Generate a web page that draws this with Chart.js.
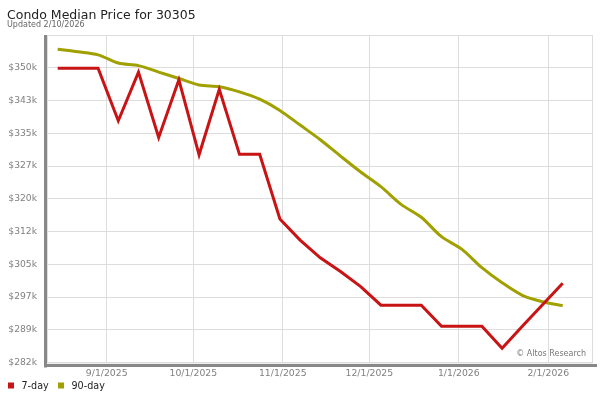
<!DOCTYPE html>
<html>
<head>
<meta charset="utf-8">
<script src="https://cdn.jsdelivr.net/npm/chart.js@4.4.1/dist/chart.umd.min.js"></script>
<style>
  html, body { margin: 0; padding: 0; background: #fff; }
</style>
</head>
<body>
<canvas id="myChart" width="600" height="400"></canvas>
<script>
// semanas (viernes) del reporte
const weekDates = [
  '2025-08-15', '2025-08-22', '2025-08-29', '2025-09-05', '2025-09-12', '2025-09-19', '2025-09-26',
  '2025-10-03', '2025-10-10', '2025-10-17', '2025-10-24', '2025-10-31', '2025-11-07', '2025-11-14',
  '2025-11-21', '2025-11-28', '2025-12-05', '2025-12-12', '2025-12-19', '2025-12-26', '2026-01-02',
  '2026-01-09', '2026-01-16', '2026-01-23', '2026-01-30', '2026-02-06'
];
const sevenDay = [
  350600, 350600, 350600, 338400, 349700, 334500, 347900, 330500, 345700, 330600, 330600, 315600, 310700,
  306600, 303400, 299900, 295600, 295600, 295600, 290700, 290700, 290700, 285600, 290700, 295700, 300700
];
const ninetyDay = [
  355000, 354400, 353700, 351800, 351200, 349700, 348200, 346700, 346300, 345100, 343400, 340800, 337400,
  334000, 330200, 326500, 323100, 319000, 316000, 311500, 308600, 304300, 300800, 297900, 296400, 295500
];
const monthTicks = ['2025-09-01', '2025-10-01', '2025-11-01', '2025-12-01', '2026-01-01', '2026-02-01'];
const monthLabels = ['9/1/2025', '10/1/2025', '11/1/2025', '12/1/2025', '1/1/2026', '2/1/2026'];
const priceTicks = [282300, 289900, 297500, 305100, 312700, 320300, 327900, 335500, 343100, 350700, 358300];
const priceLabels = ['$282k', '$289k', '$297k', '$305k', '$312k', '$320k', '$327k', '$335k', '$343k', '$350k', ''];

const DAY = 24 * 3600 * 1000;
const origin = Date.UTC(2025, 8, 1);
function toDay(s) {
  const [y, m, d] = s.split('-').map(Number);
  return (Date.UTC(y, m - 1, d) - origin) / DAY;
}

const weekDays = weekDates.map(toDay);
const monthDays = monthTicks.map(toDay);

const tickColor = '#808080';
const gridColor = '#dddddd';

const chromePlugin = {
  id: 'chrome',
  beforeDraw(chart) {
    const ctx = chart.ctx;
    ctx.save();
    ctx.fillStyle = '#fff';
    ctx.fillRect(0, 0, chart.width, chart.height);
    ctx.restore();
  },
  beforeDatasetsDraw(chart) {
    const { ctx, chartArea: a } = chart;
    ctx.save();
    ctx.strokeStyle = gridColor;
    ctx.lineWidth = 1;
    ctx.strokeRect(a.left + 0.5, a.top + 0.5, a.right - a.left - 1, a.bottom - a.top);
    ctx.restore();
  },
  afterDraw(chart) {
    const { ctx, chartArea: a } = chart;
    ctx.save();
    // sombra del marco
    ctx.fillStyle = '#888888';
    ctx.fillRect(a.left - 3, a.top, 3, a.bottom - a.top + 5);
    ctx.fillRect(a.left - 3, a.bottom + 1.5, a.right - a.left + 7, 3);

    // titulo
    ctx.fillStyle = '#222';
    ctx.textBaseline = 'alphabetic';
    ctx.textAlign = 'left';
    ctx.font = '12.5px "DejaVu Sans"';
    ctx.fillText('Condo Median Price for 30305', 7, 19);
    ctx.fillStyle = '#666';
    ctx.font = '8px "DejaVu Sans"';
    ctx.fillText('Updated 2/10/2026', 7, 27);

    // marca de agua
    ctx.fillStyle = '#777';
    ctx.textAlign = 'right';
    ctx.textBaseline = 'middle';
    ctx.fillText('\u00A9 Altos Research', a.right - 7, a.bottom - 8.5);

    // leyenda
    const legendX = [8, 58];
    ctx.textAlign = 'left';
    ctx.font = '9.6px "DejaVu Sans"';
    chart.data.datasets.forEach((ds, i) => {
      ctx.fillStyle = ds.borderColor;
      ctx.fillRect(legendX[i], 382.5, 6, 6);
      ctx.fillStyle = '#222';
      ctx.fillText(ds.label, legendX[i] + 13.5, 386);
    });
    ctx.restore();
  }
};

const ctx = document.getElementById('myChart').getContext('2d');

new Chart(ctx, {
  type: 'line',
  data: {
    datasets: [
      {
        label: '7-day',
        data: weekDays.map((d, i) => ({ x: d, y: sevenDay[i] })),
        borderColor: '#c81414',
        borderWidth: 3,
        pointRadius: 0,
        tension: 0
      },
      {
        label: '90-day',
        data: weekDays.map((d, i) => ({ x: d, y: ninetyDay[i] })),
        borderColor: '#a0a000',
        borderWidth: 3,
        pointRadius: 0,
        tension: 0.3
      }
    ]
  },
  options: {
    responsive: false,
    animation: false,
    devicePixelRatio: 1,
    layout: { padding: { left: 0, right: 7, top: 35, bottom: 17.5 } },
    plugins: {
      legend: { display: false },
      title: { display: false },
      tooltip: { enabled: false }
    },
    scales: {
      x: {
        type: 'linear',
        min: -20.7,
        max: 168.5,
        afterBuildTicks: axis => { axis.ticks = monthDays.map(v => ({ value: v })); },
        afterFit: scale => { scale.height = 20; },
        grid: { color: gridColor, drawTicks: false },
        border: { display: false },
        ticks: {
          autoSkip: false,
          maxRotation: 0,
          padding: 6,
          color: tickColor,
          font: { family: 'DejaVu Sans', size: 9.3 },
          callback: (v, i) => monthLabels[i]
        }
      },
      y: {
        min: 282300,
        max: 358300,
        afterBuildTicks: axis => { axis.ticks = priceTicks.map(v => ({ value: v })); },
        afterFit: scale => { scale.width = 47; },
        grid: { color: gridColor, drawTicks: false },
        border: { display: false },
        ticks: {
          padding: 10,
          color: tickColor,
          font: { family: 'DejaVu Sans', size: 9.2 },
          callback: (v, i) => priceLabels[i]
        }
      }
    }
  },
  plugins: [chromePlugin]
});
</script>
</body>
</html>
